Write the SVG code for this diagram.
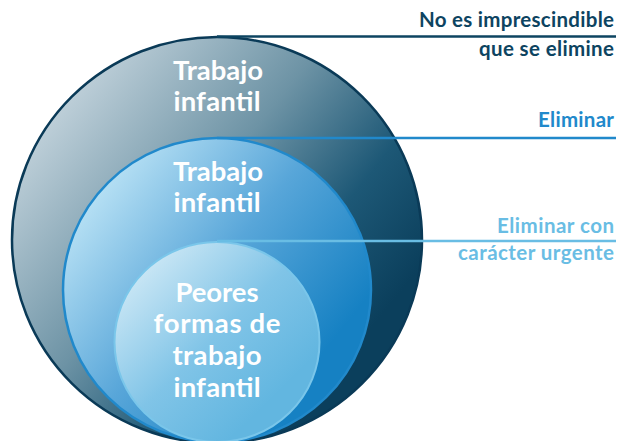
<svg xmlns="http://www.w3.org/2000/svg" width="619" height="444" viewBox="0 0 619 444">
  <style>
    .in { font-family: Lato, "Open Sans", "Liberation Sans", sans-serif; font-weight: bold; font-size: 27.5px; fill: #ffffff; text-anchor: middle; }
    .lab { font-family: Lato, "Open Sans", "Liberation Sans", sans-serif; font-weight: bold; font-size: 20.5px; text-anchor: end; }
    .con { fill: none; stroke-width: 2.5; }
  </style>
  <defs>
    <linearGradient id="gOuter" x1="0.1" y1="0.15" x2="0.85" y2="0.75">
      <stop offset="0" stop-color="#c3d3dc"/>
      <stop offset="0.45" stop-color="#6d93a5"/>
      <stop offset="0.75" stop-color="#1d5876"/>
      <stop offset="1" stop-color="#0b3f5c"/>
    </linearGradient>
    <linearGradient id="gMid" x1="0.15" y1="0.15" x2="0.85" y2="0.7">
      <stop offset="0" stop-color="#b3def3"/>
      <stop offset="0.5" stop-color="#58a6d9"/>
      <stop offset="1" stop-color="#1681c3"/>
    </linearGradient>
    <linearGradient id="gIn" x1="0.15" y1="0.1" x2="0.8" y2="0.75">
      <stop offset="0" stop-color="#cbe7f5"/>
      <stop offset="0.55" stop-color="#80c4e7"/>
      <stop offset="1" stop-color="#62b6e0"/>
    </linearGradient>
    <clipPath id="clipPage"><rect x="0" y="0" width="619" height="441"/></clipPath>
  </defs>
  <rect width="619" height="444" fill="#ffffff"/>

  <g clip-path="url(#clipPage)">
    <g id="node-outer">
      <ellipse cx="217" cy="240" rx="205" ry="203" fill="url(#gOuter)" stroke="#0a3a57" stroke-width="2.5"/>
      <text class="in" x="218" y="80" textLength="90">Trabajo</text>
      <text class="in" x="217" y="111" textLength="87">infantil</text>
    </g>
    <g id="node-middle">
      <ellipse cx="217" cy="290" rx="154" ry="152" fill="url(#gMid)" stroke="#2189cb" stroke-width="2.5"/>
      <text class="in" x="218" y="181" textLength="90">Trabajo</text>
      <text class="in" x="217" y="212" textLength="87">infantil</text>
    </g>
    <g id="node-inner">
      <ellipse cx="217" cy="342" rx="102.5" ry="100" fill="url(#gIn)" stroke="#7ac6ea" stroke-width="2"/>
      <text class="in" x="217" y="302" textLength="83">Peores</text>
      <text class="in" x="217" y="333" textLength="127">formas de</text>
      <text class="in" x="217" y="365" textLength="89">trabajo</text>
      <text class="in" x="217" y="397" textLength="87">infantil</text>
    </g>
  </g>

  <g id="connectors">
    <line class="con" x1="217" y1="36.5" x2="616" y2="36.5" stroke="#0d4461"/>
    <line class="con" x1="217" y1="138" x2="616" y2="138" stroke="#2189cb"/>
    <line class="con" x1="217" y1="241" x2="616" y2="241" stroke="#69bde4"/>
  </g>

  <g id="label-1">
    <text class="lab" x="614" y="26.5" fill="#0d4461" textLength="195">No es imprescindible</text>
    <text class="lab" x="614" y="55.5" fill="#0d4461" textLength="135">que se elimine</text>
  </g>
  <g id="label-2">
    <text class="lab" x="614" y="127" fill="#2189cb" textLength="76">Eliminar</text>
  </g>
  <g id="label-3">
    <text class="lab" x="614" y="233" fill="#69bde4" textLength="117">Eliminar con</text>
    <text class="lab" x="614" y="260" fill="#69bde4" textLength="156">carácter urgente</text>
  </g>
</svg>
